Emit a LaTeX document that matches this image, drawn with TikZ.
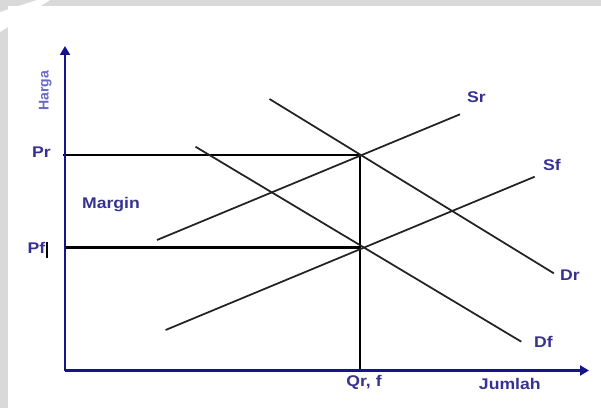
\documentclass[tikz,border=0pt]{standalone}
\usepackage{fontspec}
\setmainfont{Liberation Sans}
\newfontfamily\lblfont[FakeStretch=1.14]{Liberation Sans Bold}
\newfontfamily\hargafont{Liberation Sans Bold}
\usetikzlibrary{arrows.meta,positioning}
\definecolor{AxisNavy}{RGB}{20,20,140}
\definecolor{LabelNavy}{RGB}{55,50,145}
\definecolor{HargaBlue}{RGB}{105,105,200}
\definecolor{FrameGray}{RGB}{217,217,217}
\definecolor{CurveGray}{RGB}{35,35,35}
\newcommand{\marketline}[3]{%
  \draw[CurveGray,line width=1pt] (#1)--(#2) node[lbl,#3] {};}
\tikzset{
  lbl/.style={text=LabelNavy,font=\lblfont\fontsize{8.8}{10}\selectfont,inner sep=0pt},
  axisline/.style={AxisNavy,line width=1.4pt,-{Triangle[length=1.8mm,width=2mm]}},
  priceline/.style={black,line width=1.15pt}
}

\begin{document}
\begin{tikzpicture}[x=0.02cm,y=-0.02cm]
  \useasboundingbox (0,0) rectangle (601,408);
  \fill[FrameGray] (0,0) rectangle (601,5.7);
  \fill[FrameGray] (0,0) rectangle (8.3,408);
  \fill[white] (37,0)--(50,0)--(0,32)--(0,12)--cycle;
  % axes
  \coordinate (O) at (65,370.5);
  \coordinate (ytip) at (65,46);
  \coordinate (xtip) at (589,370.5);
  \coordinate (Prl) at (63,155);
  \coordinate (Pfl) at (65,247.5);
  \coordinate (Er) at (360.3,155);
  \coordinate (Ef) at (360.3,247.5);
  \coordinate (Q) at (360.3,370.5);
  \draw[priceline] (Prl)--(Er)--(Q);
  \draw[priceline] (Pfl)--(Ef);
  \draw[axisline] (O)--(ytip);
  \draw[axisline] (O)--(xtip);
  % supply and demand
  \coordinate (Sr0) at (157,240);   \coordinate (Sr1) at (460,114.3);
  \coordinate (Sf0) at (165.6,330); \coordinate (Sf1) at (534.7,176.7);
  \coordinate (Dr0) at (269.5,99);  \coordinate (Dr1) at (553.8,273.3);
  \coordinate (Df0) at (195.5,146.7); \coordinate (Df1) at (521.3,341.7);
  \marketline{Sr0}{Sr1}{}
  \marketline{Sf0}{Sf1}{}
  \marketline{Dr0}{Dr1}{}
  \marketline{Df0}{Df1}{}
  % labels
  \node[lbl] (sr) at (476.4,96.7) {Sr};
  \node[lbl] (sf) at (552,165) {Sf};
  \node[lbl] (dr) at (570,275) {Dr};
  \node[lbl] (df) at (543.5,341.7) {Df};
  \node[lbl] (qrf) at (364,382.7) {Qr, f};
  \node[lbl] (jumlah) at (509.8,384) {Jumlah};
  \node[lbl] (margin) at (111,205) {Margin};
  \node[lbl] (pr) at (41.4,152) {Pr};
  \node[lbl] (pf) at (36.4,248.3) {Pf};
  \node[lbl,text=HargaBlue,rotate=90,font=\hargafont\fontsize{8}{9}\selectfont] (harga) at (45.2,90.7) {Harga};
  \draw[black,line width=1.1pt] (47,241.7)--(47,258);
\end{tikzpicture}
\end{document}
